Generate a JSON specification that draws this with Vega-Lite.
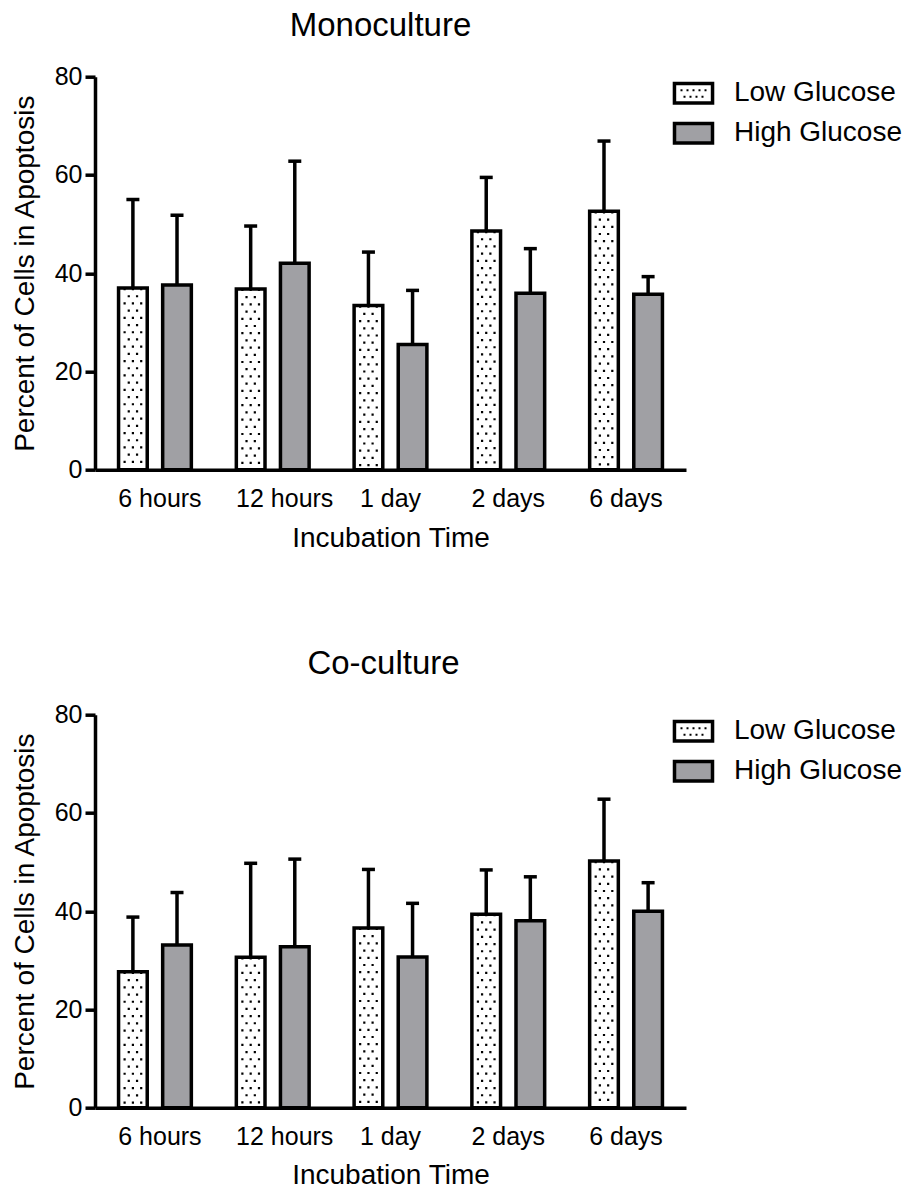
{
  "$schema": "https://vega.github.io/schema/vega-lite/v6.json",
  "padding": {"left": 11, "top": 9.7, "right": 0, "bottom": 0},
  "background": "white",
  "spacing": 95,
  "config": {
    "view": {"stroke": null},
    "font": "Liberation Sans",
    "axis": {"labelFont": "Liberation Sans", "titleFont": "Liberation Sans", "labelColor": "black", "titleColor": "black", "domainColor": "black", "tickColor": "black", "grid": false, "titleFontWeight": "normal", "labelFontSize": 25, "titleFontSize": 28, "domainWidth": 3.5, "tickWidth": 3.5},
    "legend": {"orient": "none", "legendX": 578, "legendY": -3.9, "labelFontSize": 28, "labelFont": "Liberation Sans", "labelColor": "black", "labelLimit": 400, "symbolSize": 1369, "labelOffset": 20, "rowPadding": -5, "symbolOpacity": 1, "symbolStrokeWidth": 3.5}
  },
  "resolve": {"scale": {"fill": "independent", "stroke": "independent", "shape": "independent"}, "legend": {"fill": "independent", "stroke": "independent", "shape": "independent"}},
  "datasets": {
    "d": [
      {"Culture": "Monoculture", "Time": "6 hours", "Glucose": "Low Glucose", "Percent": 37.0, "Upper": 55.0},
      {"Culture": "Monoculture", "Time": "6 hours", "Glucose": "High Glucose", "Percent": 37.6, "Upper": 51.8},
      {"Culture": "Monoculture", "Time": "12 hours", "Glucose": "Low Glucose", "Percent": 36.8, "Upper": 49.6},
      {"Culture": "Monoculture", "Time": "12 hours", "Glucose": "High Glucose", "Percent": 42.0, "Upper": 62.8},
      {"Culture": "Monoculture", "Time": "1 day", "Glucose": "Low Glucose", "Percent": 33.4, "Upper": 44.3},
      {"Culture": "Monoculture", "Time": "1 day", "Glucose": "High Glucose", "Percent": 25.5, "Upper": 36.5},
      {"Culture": "Monoculture", "Time": "2 days", "Glucose": "Low Glucose", "Percent": 48.6, "Upper": 59.5},
      {"Culture": "Monoculture", "Time": "2 days", "Glucose": "High Glucose", "Percent": 35.9, "Upper": 45.0},
      {"Culture": "Monoculture", "Time": "6 days", "Glucose": "Low Glucose", "Percent": 52.6, "Upper": 66.9},
      {"Culture": "Monoculture", "Time": "6 days", "Glucose": "High Glucose", "Percent": 35.7, "Upper": 39.3},
      {"Culture": "Co-culture", "Time": "6 hours", "Glucose": "Low Glucose", "Percent": 27.65, "Upper": 38.8},
      {"Culture": "Co-culture", "Time": "6 hours", "Glucose": "High Glucose", "Percent": 33.1, "Upper": 43.8},
      {"Culture": "Co-culture", "Time": "12 hours", "Glucose": "Low Glucose", "Percent": 30.6, "Upper": 49.75},
      {"Culture": "Co-culture", "Time": "12 hours", "Glucose": "High Glucose", "Percent": 32.75, "Upper": 50.6},
      {"Culture": "Co-culture", "Time": "1 day", "Glucose": "Low Glucose", "Percent": 36.6, "Upper": 48.5},
      {"Culture": "Co-culture", "Time": "1 day", "Glucose": "High Glucose", "Percent": 30.7, "Upper": 41.6},
      {"Culture": "Co-culture", "Time": "2 days", "Glucose": "Low Glucose", "Percent": 39.4, "Upper": 48.4},
      {"Culture": "Co-culture", "Time": "2 days", "Glucose": "High Glucose", "Percent": 38.05, "Upper": 47.0},
      {"Culture": "Co-culture", "Time": "6 days", "Glucose": "Low Glucose", "Percent": 50.2, "Upper": 62.8},
      {"Culture": "Co-culture", "Time": "6 days", "Glucose": "High Glucose", "Percent": 40.0, "Upper": 45.8}
    ]
  },
  "vconcat": [
    {
      "data": {"name": "d"},
      "width": 591,
      "height": 393,
      "title": {"text": "Monoculture", "frame": "group", "anchor": "middle", "fontSize": 33, "font": "Liberation Sans", "fontWeight": "normal", "color": "black", "baseline": "alphabetic", "offset": -4, "dx": -10},
      "transform": [{"filter": "datum.Culture === 'Monoculture'"}],
      "encoding": {
        "x": {"field": "Time", "type": "nominal", "sort": ["6 hours", "12 hours", "1 day", "2 days", "6 days"], "scale": {"paddingInner": 0.382, "paddingOuter": 0.2}, "axis": {"title": "Incubation Time", "labelAngle": 0, "ticks": false, "tickSize": 0, "labelPadding": 17, "titlePadding": 13, "labelOffset": {"condition": [{"test": "datum.value === '12 hours'", "value": 12}, {"test": "datum.value === '6 hours'", "value": 5}], "value": 0}}}
      },
      "layer": [
        {
          "mark": {"type": "bar", "stroke": "black", "strokeWidth": 3.5},
          "encoding": {
            "xOffset": {"field": "Glucose", "sort": ["Low Glucose", "High Glucose"], "scale": {"paddingInner": 0.35, "paddingOuter": 0}},
            "y": {"field": "Percent", "type": "quantitative", "scale": {"domain": [0, 80], "nice": false}, "axis": {"title": "Percent of Cells in Apoptosis", "values": [0, 20, 40, 60, 80], "tickSize": 10, "labelPadding": 3, "titlePadding": 15}},
            "fill": {"condition": {"test": "datum.Glucose === 'Low Glucose'", "value": "white"}, "value": "#a0a0a4"}
          }
        },
        {
          "mark": {"type": "point", "filled": true, "opacity": 0, "strokeWidth": 3.5},
          "encoding": {
            "xOffset": {"field": "Glucose", "sort": ["Low Glucose", "High Glucose"]},
            "y": {"field": "Percent", "type": "quantitative"},
            "fill": {"field": "Glucose", "type": "nominal", "scale": {"domain": ["Low Glucose", "High Glucose"], "range": ["black", "#a0a0a4"]}, "title": null},
            "stroke": {"field": "Glucose", "type": "nominal", "scale": {"domain": ["Low Glucose", "High Glucose"], "range": ["transparent", "black"]}, "title": null},
            "shape": {"field": "Glucose", "type": "nominal", "scale": {"domain": ["Low Glucose", "High Glucose"], "range": ["M-1.124,-0.622H1.124V0.622H-1.124Z M-0.935,-0.432V0.432H0.935V-0.432Z M-0.703,-0.216h0.108v0.108h-0.108Z M-0.378,-0.216h0.108v0.108h-0.108Z M-0.054,-0.216h0.108v0.108h-0.108Z M0.270,-0.216h0.108v0.108h-0.108Z M0.595,-0.216h0.108v0.108h-0.108Z M-0.540,0.136h0.108v0.108h-0.108Z M-0.216,0.136h0.108v0.108h-0.108Z M0.108,0.136h0.108v0.108h-0.108Z M0.432,0.136h0.108v0.108h-0.108Z", "M-1.027,-0.527H1.027V0.527H-1.027Z"]}, "title": null}
          }
        },
        {
          "transform": [{"filter": "datum.Glucose === 'Low Glucose'"}],
          "mark": {"type": "rule", "color": "black", "strokeWidth": 2.2, "strokeDash": [2.2, 12.2], "strokeCap": "butt"},
          "encoding": {"x": {"field": "Time", "type": "nominal", "sort": ["6 hours", "12 hours", "1 day", "2 days", "6 days"], "bandPosition": 0.0831}, "y": {"field": "Percent", "type": "quantitative"}, "y2": {"datum": 0}}
        },
        {
          "transform": [{"filter": "datum.Glucose === 'Low Glucose'"}],
          "mark": {"type": "rule", "color": "black", "strokeWidth": 2.2, "strokeDash": [2.2, 12.2], "strokeCap": "butt"},
          "encoding": {"x": {"field": "Time", "type": "nominal", "sort": ["6 hours", "12 hours", "1 day", "2 days", "6 days"], "bandPosition": 0.1971}, "y": {"field": "Percent", "type": "quantitative"}, "y2": {"datum": 0}}
        },
        {
          "transform": [{"filter": "datum.Glucose === 'Low Glucose'"}],
          "mark": {"type": "rule", "color": "black", "strokeWidth": 2.2, "strokeDash": [2.2, 12.2], "strokeCap": "butt"},
          "encoding": {"x": {"field": "Time", "type": "nominal", "sort": ["6 hours", "12 hours", "1 day", "2 days", "6 days"], "bandPosition": 0.3111}, "y": {"field": "Percent", "type": "quantitative"}, "y2": {"datum": 0}}
        },
        {
          "transform": [{"filter": "datum.Glucose === 'Low Glucose'"}],
          "mark": {"type": "rule", "color": "black", "strokeWidth": 2.2, "strokeDash": [2.2, 12.2], "strokeDashOffset": 7.2, "strokeCap": "butt"},
          "encoding": {"x": {"field": "Time", "type": "nominal", "sort": ["6 hours", "12 hours", "1 day", "2 days", "6 days"], "bandPosition": 0.1401}, "y": {"field": "Percent", "type": "quantitative"}, "y2": {"datum": 0}}
        },
        {
          "transform": [{"filter": "datum.Glucose === 'Low Glucose'"}],
          "mark": {"type": "rule", "color": "black", "strokeWidth": 2.2, "strokeDash": [2.2, 12.2], "strokeDashOffset": 7.2, "strokeCap": "butt"},
          "encoding": {"x": {"field": "Time", "type": "nominal", "sort": ["6 hours", "12 hours", "1 day", "2 days", "6 days"], "bandPosition": 0.2541}, "y": {"field": "Percent", "type": "quantitative"}, "y2": {"datum": 0}}
        },
        {
          "mark": {"type": "rule", "color": "black", "strokeWidth": 3.5},
          "encoding": {"xOffset": {"field": "Glucose", "sort": ["Low Glucose", "High Glucose"]}, "y": {"field": "Percent", "type": "quantitative"}, "y2": {"field": "Upper"}}
        },
        {
          "mark": {"type": "tick", "orient": "horizontal", "size": 13, "thickness": 3.5, "color": "black", "opacity": 1},
          "encoding": {"xOffset": {"field": "Glucose", "sort": ["Low Glucose", "High Glucose"]}, "y": {"field": "Upper", "type": "quantitative"}}
        }
      ]
    },
    {
      "data": {"name": "d"},
      "width": 591,
      "height": 393,
      "title": {"text": "Co-culture", "frame": "group", "anchor": "middle", "fontSize": 33, "font": "Liberation Sans", "fontWeight": "normal", "color": "black", "baseline": "alphabetic", "offset": -4, "dx": -7},
      "transform": [{"filter": "datum.Culture === 'Co-culture'"}],
      "encoding": {
        "x": {"field": "Time", "type": "nominal", "sort": ["6 hours", "12 hours", "1 day", "2 days", "6 days"], "scale": {"paddingInner": 0.382, "paddingOuter": 0.2}, "axis": {"title": "Incubation Time", "labelAngle": 0, "ticks": false, "tickSize": 0, "labelPadding": 17, "titlePadding": 12, "labelOffset": {"condition": [{"test": "datum.value === '12 hours'", "value": 12}, {"test": "datum.value === '6 hours'", "value": 5}], "value": 0}}}
      },
      "layer": [
        {
          "mark": {"type": "bar", "stroke": "black", "strokeWidth": 3.5},
          "encoding": {
            "xOffset": {"field": "Glucose", "sort": ["Low Glucose", "High Glucose"], "scale": {"paddingInner": 0.35, "paddingOuter": 0}},
            "y": {"field": "Percent", "type": "quantitative", "scale": {"domain": [0, 80], "nice": false}, "axis": {"title": "Percent of Cells in Apoptosis", "values": [0, 20, 40, 60, 80], "tickSize": 10, "labelPadding": 3, "titlePadding": 15}},
            "fill": {"condition": {"test": "datum.Glucose === 'Low Glucose'", "value": "white"}, "value": "#a0a0a4"}
          }
        },
        {
          "mark": {"type": "point", "filled": true, "opacity": 0, "strokeWidth": 3.5},
          "encoding": {
            "xOffset": {"field": "Glucose", "sort": ["Low Glucose", "High Glucose"]},
            "y": {"field": "Percent", "type": "quantitative"},
            "fill": {"field": "Glucose", "type": "nominal", "scale": {"domain": ["Low Glucose", "High Glucose"], "range": ["black", "#a0a0a4"]}, "title": null},
            "stroke": {"field": "Glucose", "type": "nominal", "scale": {"domain": ["Low Glucose", "High Glucose"], "range": ["transparent", "black"]}, "title": null},
            "shape": {"field": "Glucose", "type": "nominal", "scale": {"domain": ["Low Glucose", "High Glucose"], "range": ["M-1.124,-0.622H1.124V0.622H-1.124Z M-0.935,-0.432V0.432H0.935V-0.432Z M-0.703,-0.216h0.108v0.108h-0.108Z M-0.378,-0.216h0.108v0.108h-0.108Z M-0.054,-0.216h0.108v0.108h-0.108Z M0.270,-0.216h0.108v0.108h-0.108Z M0.595,-0.216h0.108v0.108h-0.108Z M-0.540,0.136h0.108v0.108h-0.108Z M-0.216,0.136h0.108v0.108h-0.108Z M0.108,0.136h0.108v0.108h-0.108Z M0.432,0.136h0.108v0.108h-0.108Z", "M-1.027,-0.527H1.027V0.527H-1.027Z"]}, "title": null}
          }
        },
        {
          "transform": [{"filter": "datum.Glucose === 'Low Glucose'"}],
          "mark": {"type": "rule", "color": "black", "strokeWidth": 2.2, "strokeDash": [2.2, 12.2], "strokeCap": "butt"},
          "encoding": {"x": {"field": "Time", "type": "nominal", "sort": ["6 hours", "12 hours", "1 day", "2 days", "6 days"], "bandPosition": 0.0831}, "y": {"field": "Percent", "type": "quantitative"}, "y2": {"datum": 0}}
        },
        {
          "transform": [{"filter": "datum.Glucose === 'Low Glucose'"}],
          "mark": {"type": "rule", "color": "black", "strokeWidth": 2.2, "strokeDash": [2.2, 12.2], "strokeCap": "butt"},
          "encoding": {"x": {"field": "Time", "type": "nominal", "sort": ["6 hours", "12 hours", "1 day", "2 days", "6 days"], "bandPosition": 0.1971}, "y": {"field": "Percent", "type": "quantitative"}, "y2": {"datum": 0}}
        },
        {
          "transform": [{"filter": "datum.Glucose === 'Low Glucose'"}],
          "mark": {"type": "rule", "color": "black", "strokeWidth": 2.2, "strokeDash": [2.2, 12.2], "strokeCap": "butt"},
          "encoding": {"x": {"field": "Time", "type": "nominal", "sort": ["6 hours", "12 hours", "1 day", "2 days", "6 days"], "bandPosition": 0.3111}, "y": {"field": "Percent", "type": "quantitative"}, "y2": {"datum": 0}}
        },
        {
          "transform": [{"filter": "datum.Glucose === 'Low Glucose'"}],
          "mark": {"type": "rule", "color": "black", "strokeWidth": 2.2, "strokeDash": [2.2, 12.2], "strokeDashOffset": 7.2, "strokeCap": "butt"},
          "encoding": {"x": {"field": "Time", "type": "nominal", "sort": ["6 hours", "12 hours", "1 day", "2 days", "6 days"], "bandPosition": 0.1401}, "y": {"field": "Percent", "type": "quantitative"}, "y2": {"datum": 0}}
        },
        {
          "transform": [{"filter": "datum.Glucose === 'Low Glucose'"}],
          "mark": {"type": "rule", "color": "black", "strokeWidth": 2.2, "strokeDash": [2.2, 12.2], "strokeDashOffset": 7.2, "strokeCap": "butt"},
          "encoding": {"x": {"field": "Time", "type": "nominal", "sort": ["6 hours", "12 hours", "1 day", "2 days", "6 days"], "bandPosition": 0.2541}, "y": {"field": "Percent", "type": "quantitative"}, "y2": {"datum": 0}}
        },
        {
          "mark": {"type": "rule", "color": "black", "strokeWidth": 3.5},
          "encoding": {"xOffset": {"field": "Glucose", "sort": ["Low Glucose", "High Glucose"]}, "y": {"field": "Percent", "type": "quantitative"}, "y2": {"field": "Upper"}}
        },
        {
          "mark": {"type": "tick", "orient": "horizontal", "size": 13, "thickness": 3.5, "color": "black", "opacity": 1},
          "encoding": {"xOffset": {"field": "Glucose", "sort": ["Low Glucose", "High Glucose"]}, "y": {"field": "Upper", "type": "quantitative"}}
        }
      ]
    }
  ]
}
